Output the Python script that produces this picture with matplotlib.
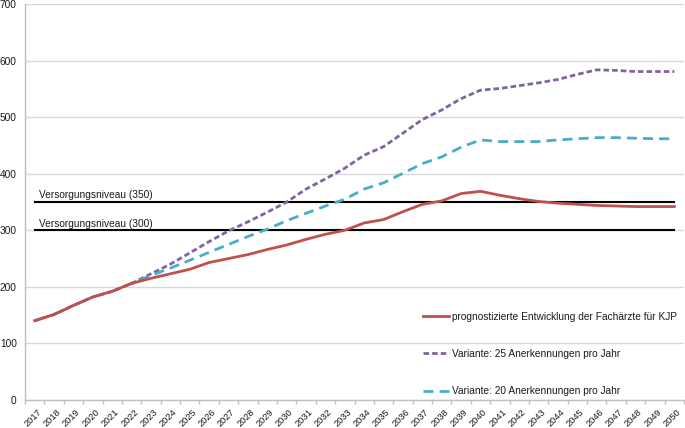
import matplotlib
matplotlib.use("Agg")
import matplotlib.pyplot as plt
import matplotlib.transforms as mtransforms
from matplotlib.ticker import FixedLocator, MultipleLocator

plt.rcParams["font.family"] = ["Liberation Sans", "DejaVu Sans"]

# --- DATA ---
years = list(range(2017, 2051))

kjp_forecast = [140, 151, 167, 182, 192, 206, 215, 223, 231, 243, 250, 257,
                266, 274, 284, 293, 300, 313, 319, 333, 346, 352, 365, 369,
                362, 356, 351, 348, 346, 344, 343, 342, 342, 342]

variant_25 = [140, 151, 167, 182, 192, 206, 223, 240, 260, 280, 299, 315,
              332, 350, 373, 391, 410, 433, 448, 472, 496, 513, 533, 548,
              551, 556, 561, 567, 576, 584, 583, 581, 581, 581]

variant_20 = [140, 151, 167, 182, 192, 206, 220, 233, 247, 261, 275, 289,
              302, 317, 330, 343, 355, 373, 384, 401, 418, 430, 447, 460,
              457, 457, 457, 460, 462, 464, 464, 463, 462, 462]

level_350 = [350] * len(years)
level_300 = [300] * len(years)

series_labels = [
    "prognostizierte Entwicklung der Fachärzte für KJP",
    "Variante: 25 Anerkennungen pro Jahr",
    "Variante: 20 Anerkennungen pro Jahr",
]
level_labels = ["Versorgungsniveau (350)", "Versorgungsniveau (300)"]

# --- STYLE ---
RED = "#C0504D"
PURPLE = "#8064A2"
TEAL = "#4BACC6"
GRID = "#D9D9D9"
AXIS = "#BFBFBF"
TEXT = "#1A1A1A"
FS = 7.3        # legend, y ticks, level labels
FS_YEAR = 6.7   # rotated year labels

fig = plt.figure(figsize=(6.85, 4.28), dpi=100)
ax = fig.add_axes([25 / 685, 1 - 399.8 / 428, 659 / 685, 395.5 / 428])

x = list(range(len(years)))

ax.plot(x, level_350, color="black", lw=1.5, zorder=2)
ax.plot(x, level_300, color="black", lw=1.5, zorder=2)

l_red, = ax.plot(x, kjp_forecast, color=RED, lw=2.0, zorder=4,
                 label=series_labels[0])
l_pur, = ax.plot(x, variant_25, color=PURPLE, lw=2.0, zorder=3,
                 dashes=(2.0, 1.1), label=series_labels[1])
l_teal, = ax.plot(x, variant_20, color=TEAL, lw=2.0, zorder=3,
                  dashes=(3.6, 2.2), label=series_labels[2])

ax.text(0.2, 353, level_labels[0], fontsize=FS, color=TEXT, va="bottom")
ax.text(0.2, 303, level_labels[1], fontsize=FS, color=TEXT, va="bottom")

# axes
ax.set_xlim(-0.5, len(years) - 0.5)
ax.set_ylim(0, 700)
ax.yaxis.set_major_locator(MultipleLocator(100))
ax.grid(axis="y", color=GRID, lw=1.0, zorder=0)
ax.set_axisbelow(True)

for side in ("top", "right"):
    ax.spines[side].set_visible(False)
ax.spines["left"].set_color(AXIS)
ax.spines["bottom"].set_color(AXIS)
ax.spines["left"].set_linewidth(1.0)
ax.spines["bottom"].set_linewidth(1.0)

ax.tick_params(axis="y", length=0, pad=6, labelsize=FS, labelcolor=TEXT)

ax.set_xticks(x)
ax.set_xticklabels([str(y) for y in years], rotation=45, ha="right",
                   rotation_mode="anchor", fontsize=FS_YEAR, color=TEXT)
ax.xaxis.set_minor_locator(FixedLocator([i - 0.5 for i in range(len(years) + 1)]))
ax.tick_params(axis="x", which="major", length=0, pad=5.5)
ax.tick_params(axis="x", which="minor", length=3, color=AXIS, width=1.0)

offset = mtransforms.ScaledTranslation(1.5 / 72, 0, fig.dpi_scale_trans)
for lbl in ax.get_xticklabels():
    lbl.set_transform(lbl.get_transform() + offset)

fig.legend(handles=[l_red, l_pur, l_teal], loc="center left",
           bbox_to_anchor=(423 / 685, 1 - 354 / 428),
           bbox_transform=fig.transFigure, frameon=False, fontsize=FS,
           handlelength=2.6, handletextpad=0.25, labelspacing=2.7,
           borderpad=0, borderaxespad=0, labelcolor=TEXT)

fig.savefig("out.png", dpi=100)
